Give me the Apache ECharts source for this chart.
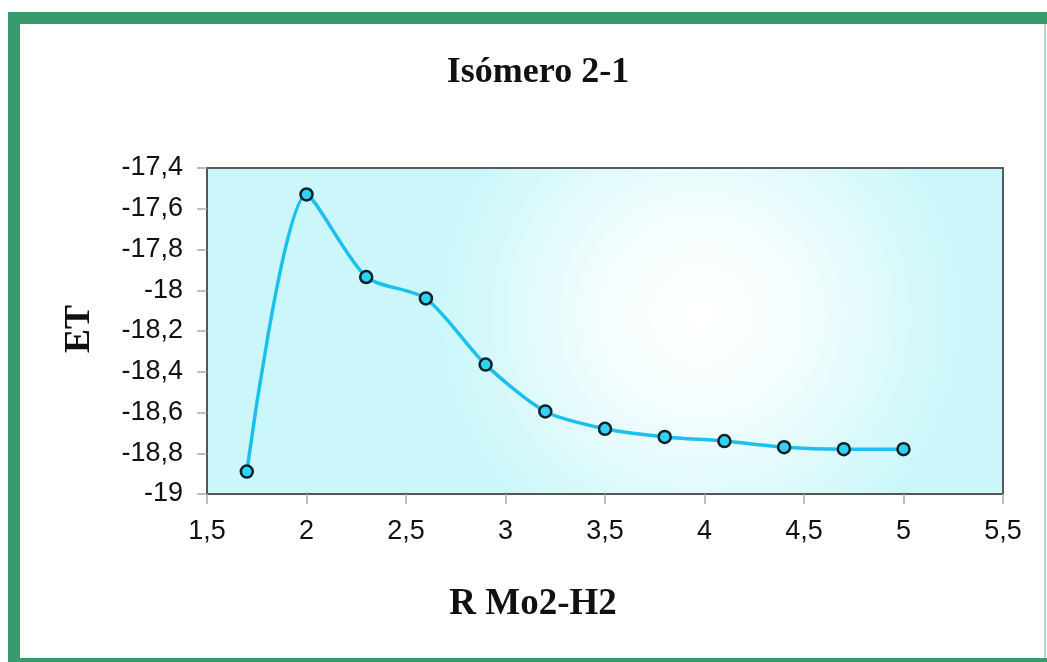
<!DOCTYPE html>
<html>
<head>
<meta charset="utf-8">
<script src="https://cdn.jsdelivr.net/npm/echarts@6/dist/echarts.min.js"></script>
<style>
  html, body { margin: 0; padding: 0; background: #ffffff; }
  #chart { width: 1047px; height: 662px; }
</style>
</head>
<body>
<div id="chart"></div>
<script>
// Data
var rValues = [1.7, 2.0, 2.3, 2.6, 2.9, 3.2, 3.5, 3.8, 4.1, 4.4, 4.7, 5.0];
var etValues = [-18.89, -17.53, -17.935, -18.04, -18.365, -18.595, -18.68, -18.72, -18.74, -18.77, -18.78, -18.78];
var titleText = 'Isómero 2-1';
var xAxisName = 'R Mo2-H2';
var yAxisName = 'ET';

var seriesData = rValues.map(function (r, i) { return [r, etValues[i]]; });

function fmt(v) {
  return String(Number(v.toFixed(1))).replace('.', ',');
}

var green = '#379b6b';
var chart = echarts.init(document.getElementById('chart'), null, { renderer: 'canvas' });
chart.setOption({
  backgroundColor: '#ffffff',
  animation: false,
  title: {
    text: titleText,
    left: 533,
    top: 50,
    textAlign: 'center',
    textStyle: { fontFamily: 'Liberation Serif', fontWeight: 'bold', fontSize: 36, color: '#111' }
  },
  graphic: [
    { type: 'rect', shape: { x: 8, y: 12, width: 12, height: 650 }, style: { fill: green }, silent: true },
    { type: 'rect', shape: { x: 8, y: 12, width: 1039, height: 12 }, style: { fill: green }, silent: true },
    { type: 'rect', shape: { x: 8, y: 658, width: 1039, height: 4 }, style: { fill: green }, silent: true },
    { type: 'rect', shape: { x: 1044, y: 24, width: 2, height: 634 }, style: { fill: '#b5dcc6' }, silent: true },
    { type: 'text', x: 533, y: 604, style: { text: xAxisName, fill: '#111', font: 'bold 37px "Liberation Serif"', align: 'center', verticalAlign: 'middle' }, silent: true },
    { type: 'text', x: 80, y: 329, rotation: Math.PI / 2, style: { text: yAxisName, fill: '#111', font: 'bold 36px "Liberation Serif"', align: 'center', verticalAlign: 'middle' }, silent: true }
  ],
  grid: {
    left: 207, right: 44, top: 168, bottom: 168,
    show: true,
    borderColor: '#5a5a5a',
    borderWidth: 2,
    backgroundColor: new echarts.graphic.RadialGradient(0.62, 0.45, 0.8, [
      { offset: 0, color: '#ffffff' },
      { offset: 0.4, color: '#f2fdfd' },
      { offset: 1, color: '#cbf7fa' }
    ])
  },
  xAxis: {
    type: 'value',
    min: 1.5, max: 5.5, interval: 0.5,
    axisLine: { show: true, lineStyle: { color: '#555', width: 2 } },
    axisTick: { show: true, length: 10, lineStyle: { color: '#aaa', width: 1.5 } },
    axisLabel: { margin: 24, fontFamily: 'Liberation Sans', fontSize: 27, color: '#111', formatter: fmt },
    splitLine: { show: false }
  },
  yAxis: {
    type: 'value',
    min: -19, max: -17.4, interval: 0.2,
    axisLine: { show: true, lineStyle: { color: '#555', width: 2 } },
    axisTick: { show: true, length: 10, lineStyle: { color: '#aaa', width: 1.5 } },
    axisLabel: { margin: 24, fontFamily: 'Liberation Sans', fontSize: 27, color: '#111', formatter: fmt },
    splitLine: { show: false }
  },
  series: [{
    type: 'line',
    data: seriesData,
    smooth: 0.25,
    symbol: 'circle',
    symbolSize: 12,
    lineStyle: { color: '#1cc0ef', width: 3.5 },
    itemStyle: { color: '#2fd2ef', borderColor: '#10202a', borderWidth: 2.5 },
    z: 3
  }]
});
</script>
</body>
</html>
